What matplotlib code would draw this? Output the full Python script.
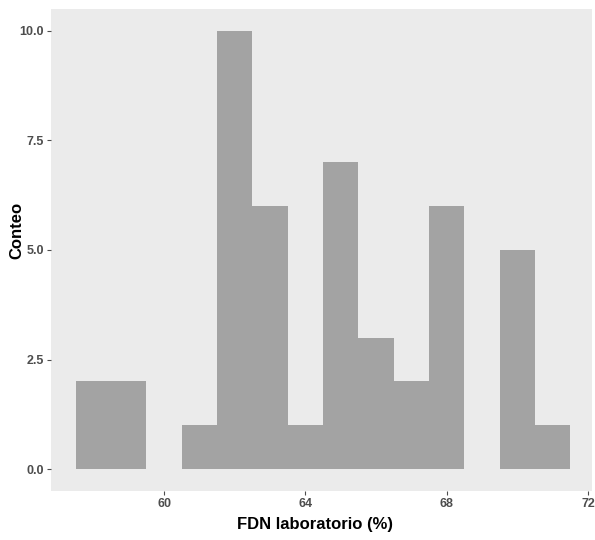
import matplotlib
matplotlib.use("Agg")
import matplotlib.pyplot as plt

plt.rcParams['font.family'] = ['Liberation Sans', 'DejaVu Sans']

# Histogram bins (centres, width 1) and counts
bin_centers = [58, 59, 60, 61, 62, 63, 64, 65, 66, 67, 68, 69, 70, 71]
counts = [2, 2, 0, 1, 10, 6, 1, 7, 3, 2, 6, 0, 5, 1]
x_ticks = [60, 64, 68, 72]
y_ticks = [0.0, 2.5, 5.0, 7.5, 10.0]
y_tick_labels = ["0.0", "2.5", "5.0", "7.5", "10.0"]
x_label = "FDN laboratorio (%)"
y_label = "Conteo"

fig = plt.figure(figsize=(5.95, 5.40), dpi=100)
# panel: x from 51 to 592 px, y from 9 to 491 px
ax = fig.add_axes([51/595, 1-491/540, (592-51)/595, (491-9)/540])
ax.set_facecolor('#EBEBEB')

ax.bar(bin_centers, counts, width=1.0, align='center', color='#A3A3A3',
       edgecolor='none', zorder=2)

ax.set_xlim(56.80, 72.11)
ax.set_ylim(-0.5, 10.5)
ax.set_xticks(x_ticks)
ax.set_yticks(y_ticks)
ax.set_yticklabels(y_tick_labels)
for s in ax.spines.values():
    s.set_visible(False)
ax.tick_params(axis='both', colors='#4D4D4D', labelcolor='#4D4D4D',
               labelsize=9, length=3, width=0.8, pad=2)
for lbl in ax.get_xticklabels() + ax.get_yticklabels():
    lbl.set_fontweight('bold')

fig.text(0.5286, 1-525/540, x_label, ha='center', va='center', fontsize=12,
         fontweight='bold', color='black')
fig.text(17/595, 1-230/540, y_label, ha='center', va='center', rotation=90,
         fontsize=12, fontweight='bold', color='black')

fig.savefig('out.png', dpi=100)
